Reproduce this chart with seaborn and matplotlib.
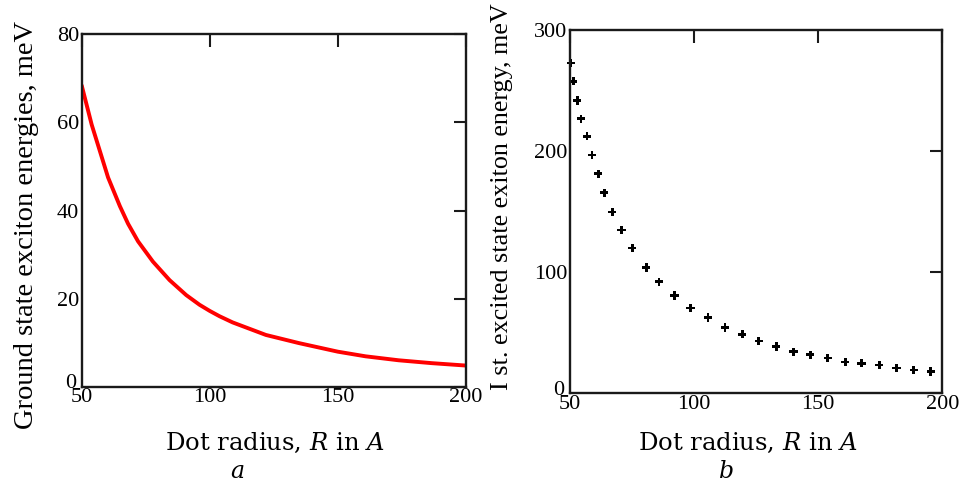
import matplotlib
matplotlib.use("Agg")
import matplotlib.pyplot as plt
import matplotlib.transforms as mtransforms
import seaborn as sns

# Werte
# (a) Grundzustand, rote Kurve
radius_a = [50, 53.9, 60.3, 64.9, 68.1, 72, 77.8, 84.3, 90.8, 96, 100, 103.8,
            108.9, 121.9, 134.8, 150, 160.8, 173.7, 186.6, 200]
ground_energy = [68.4, 59.5, 47.5, 41.0, 37.0, 33.0, 28.4, 24.2, 20.8, 18.6, 17.2, 16.0,
                 14.6, 11.75, 9.9, 7.95, 6.9, 6.0, 5.35, 4.8]

# (b) erster angeregter Zustand, Punkte
radius_b = [50.3, 51.3, 52.9, 54.4, 56.9, 58.9, 61.4, 63.8, 67.0, 70.8, 75.1, 80.7,
            85.9, 92.1, 98.6, 105.6, 112.5, 119.4, 126.1, 133.1, 140.1, 146.8, 153.9,
            160.9, 167.5, 174.6, 181.6, 188.5, 195.4]
excited_energy = [273, 258, 242, 227, 212.5, 197, 181.5, 165.8, 149.8, 134.9, 120.1, 104.1,
                  92.2, 80.8, 70.5, 62.8, 54.5, 48.8, 43.2, 38.8, 34.4, 31.9, 29.2,
                  25.9, 24.8, 23.4, 20.9, 19.3, 17.9]

x_ticks = [50, 100, 150, 200]
y_ticks_a = [0, 20, 40, 60, 80]
y_ticks_b = [0, 100, 200, 300]

sns.set_style("white")
plt.rcParams['font.family'] = ['DejaVu Serif']
plt.rcParams['mathtext.fontset'] = 'dejavuserif'
plt.rcParams['text.color'] = 'black'
plt.rcParams['axes.labelcolor'] = 'black'

fig = plt.figure(figsize=(9.61, 4.82), dpi=100)
ax1 = fig.add_axes([0.085, 0.1977, 0.3999, 0.7311])
ax2 = fig.add_axes([0.5931, 0.184, 0.3874, 0.753])

sns.lineplot(x=radius_a, y=ground_energy, color='red', linewidth=2.8, ax=ax1)
sns.scatterplot(x=radius_b, y=excited_energy, marker='P', s=36, color='black',
                edgecolor='none', ax=ax2, clip_on=False)

ax1.set_xlim(50, 200)
ax1.set_ylim(0, 80)
ax1.set_yticks(y_ticks_a)
ax2.set_xlim(50, 200)
ax2.set_ylim(0, 300)
ax2.set_yticks(y_ticks_b)

for ax in (ax1, ax2):
    ax.set_xticks(x_ticks)
    for sp in ax.spines.values():
        sp.set_linewidth(1.7)
        sp.set_color('#1a1a1a')
    ax.tick_params(direction='in', length=9, width=1.5, color='#1a1a1a',
                   labelcolor='black', top=True, right=True)
    ax.tick_params(axis='x', pad=1)
    ax.tick_params(axis='y', pad=2)
    for lab in ax.get_xticklabels() + ax.get_yticklabels():
        lab.set_family('Liberation Serif')
        lab.set_fontsize(16)
    # die "0" unten links etwas anheben, wie im Original
    zero_lab = ax.get_yticklabels()[0]
    zero_lab.set_transform(zero_lab.get_transform() +
                           mtransforms.ScaledTranslation(-2 / 72, 4 / 72, fig.dpi_scale_trans))

ax1.set_xlabel("Dot radius, $R$ in $A$", fontsize=17.5)
ax1.xaxis.set_label_coords(0.503, -0.125)
ax1.set_ylabel("Ground state exciton energies, meV", fontsize=20.5,
               family='Liberation Serif')
ax1.yaxis.set_label_coords(-0.111, 0.459)

ax2.set_xlabel("Dot radius, $R$ in $A$", fontsize=17.5)
ax2.xaxis.set_label_coords(0.478, -0.104)
ax2.set_ylabel("I st. excited state exiton energy, meV", fontsize=18.8,
               family='Liberation Serif')
ax2.yaxis.set_label_coords(-0.153, 0.541)

fig.text(237 / 961, 1 - 471 / 482, "$a$", fontsize=17, ha='center', va='center')
fig.text(726 / 961, 1 - 471 / 482, "$b$", fontsize=17, ha='center', va='center')

fig.savefig("out.png", dpi=100)
